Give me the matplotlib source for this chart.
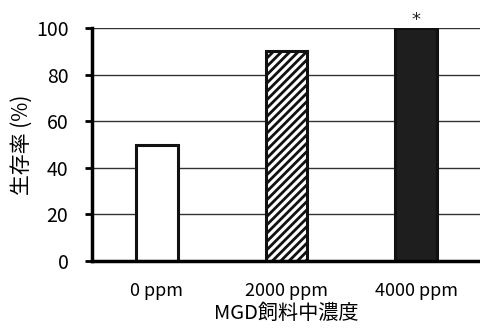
import matplotlib.pyplot as plt
import matplotlib as mpl

plt.rcParams['font.family'] = ['Noto Sans CJK JP', 'DejaVu Sans']
mpl.rcParams['hatch.linewidth'] = 2.0

categories = ['0 ppm', '2000 ppm', '4000 ppm']
survival = [50, 90, 100]
significant = [False, False, True]

fig = plt.figure(figsize=(4.81, 3.28), dpi=100)
ax = fig.add_axes([92 / 481, 1 - 261 / 328, 389 / 481, 233 / 328])

x = range(len(categories))
faces = ['white', 'white', '#1e1e1e']
hatches = [None, '////', None]
for i, v in enumerate(survival):
    ax.bar(i, v, width=0.32, color=faces[i], edgecolor='#111111',
           linewidth=2.2, hatch=hatches[i], zorder=3)
    if significant[i]:
        ax.text(i, v + 3.5, '*', ha='center', va='center', fontsize=13,
                family='DejaVu Sans', color='#222222', clip_on=False)

ax.set_xlim(-0.5, 2.5)
ax.set_ylim(0, 100)
ax.set_yticks(range(0, 101, 20))
ax.set_xticks(list(x))
ax.set_xticklabels(categories, fontsize=13)
ax.tick_params(axis='y', labelsize=14, length=5, width=2, direction='out', pad=12)
ax.tick_params(axis='x', length=0, pad=15)
ax.yaxis.grid(True, color='#333333', linewidth=1.0, zorder=0)
ax.set_axisbelow(True)

for s in ['top', 'right']:
    ax.spines[s].set_visible(False)
ax.spines['left'].set_linewidth(2.5)
ax.spines['bottom'].set_linewidth(2.5)
ax.spines['left'].set_zorder(4)
ax.spines['bottom'].set_zorder(4)

ax.set_ylabel('生存率 (%)', fontsize=15, labelpad=2)
ax.set_xlabel('MGD飼料中濃度', fontsize=14.5, labelpad=2)

fig.savefig('out.png', dpi=100)
